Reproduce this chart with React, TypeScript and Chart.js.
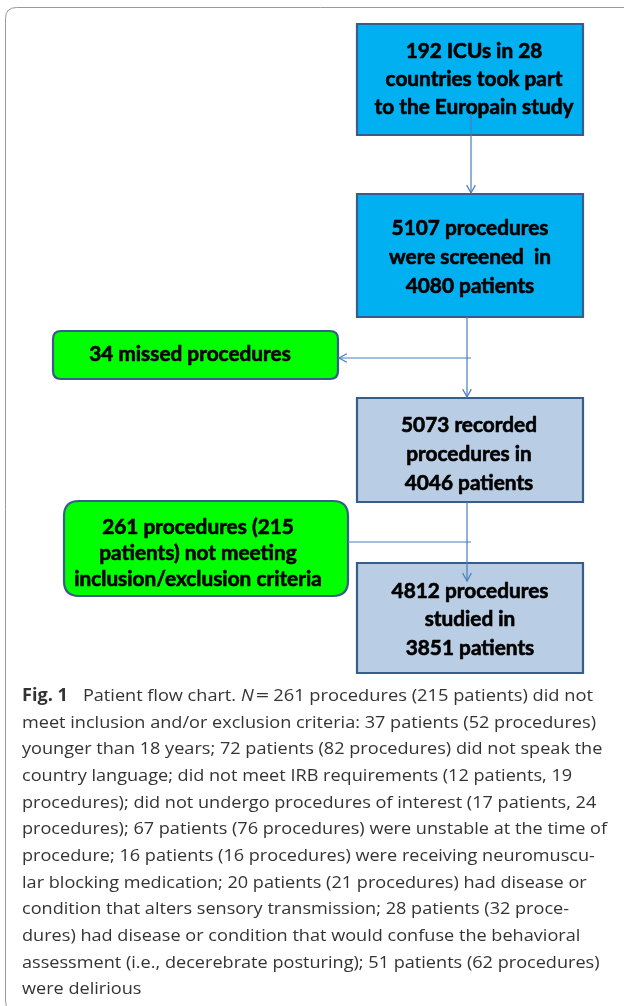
import React, { useEffect, useRef } from "react";
import { Chart, registerables } from "chart.js";

Chart.register(...registerables);

// ---- content ----
const boxTexts: string[][] = [
  ["192 ICUs in 28", "countries took part", "to the Europain study"],
  ["5107 procedures", "were screened  in", "4080 patients"],
  ["5073 recorded", "procedures in", "4046 patients"],
  ["4812 procedures", "studied in", "3851 patients"],
  ["34 missed procedures"],
  ["261 procedures (215", "patients) not meeting", "inclusion/exclusion criteria"],
];
const boxKinds = ["stage", "stage", "kept", "kept", "excluded", "excluded"];

// ---- layout (page units used as the scale's data units) ----
const boxLeft = [357, 357, 357, 357, 53, 64];
const boxTop = [24, 194, 398, 563, 331, 501];
const boxRight = [583, 583, 583, 583, 338, 348];
const boxBottom = [135, 317, 502, 673, 379, 596];
const textCx = [474, 470, 469, 470, 190, 198];
const textCy = [79, 257, 454, 619, 354, 553];
const textGap = [28, 29, 29, 28.5, 28, 26];

// reference line widths used to calibrate the box font
const fitLines = ["5107 procedures", "34 missed procedures", "to the Europain study", "inclusion/exclusion criteria"];
const fitWidths = [166, 190, 214, 235];

const connFromX = [471, 467, 471, 467, 348];
const connFromY = [113, 317, 358, 502, 542];
const connToX = [471, 467, 339, 467, 471];
const connToY = [193, 397, 358, 581, 542];
const connHead = [true, true, true, true, false];

const captionLines: string[] = [
  "",
  "meet inclusion and/or exclusion criteria: 37 patients (52 procedures)",
  "younger than 18 years; 72 patients (82 procedures) did not speak the",
  "country language; did not meet IRB requirements (12 patients, 19",
  "procedures); did not undergo procedures of interest (17 patients, 24",
  "procedures); 67 patients (76 procedures) were unstable at the time of",
  "procedure; 16 patients (16 procedures) were receiving neuromuscu-",
  "lar blocking medication; 20 patients (21 procedures) had disease or",
  "condition that alters sensory transmission; 28 patients (32 proce-",
  "dures) had disease or condition that would confuse the behavioral",
  "assessment (i.e., decerebrate posturing); 51 patients (62 procedures)",
  "were delirious",
];
// first caption line pieces
const captionPieces = ["Fig. 1", "Patient flow chart.", "N", "=", "261 procedures (215 patients) did not"];
const captionPieceStyle = ["bold", "normal", "italic", "normal", "normal"];
const captionPieceGap = [15, 5, 2, 4, 0];
const captionFirstEnd = 593;

const fillByKind: Record<string, string> = {
  stage: "#00B0F0",
  kept: "#B9CDE5",
  excluded: "#00FF00",
};
const BOX_BORDER = "#385D8A";
const LINE_COLOR = "#4A7EBB";
const CAPTION_COLOR = "#333333";
const BOX_FONT = "bold 20px Lato";
const CAP_SIZE = 17;
const CAP_FAMILY = '"Open Sans"';

function capFont(style: string) {
  if (style === "bold") return `bold ${CAP_SIZE}px ${CAP_FAMILY}`;
  if (style === "italic") return `italic ${CAP_SIZE}px ${CAP_FAMILY}`;
  return `${CAP_SIZE}px ${CAP_FAMILY}`;
}

function roundRect(ctx: CanvasRenderingContext2D, x: number, y: number, w: number, h: number, r: number) {
  ctx.beginPath();
  ctx.moveTo(x + r, y);
  ctx.lineTo(x + w - r, y);
  ctx.quadraticCurveTo(x + w, y, x + w, y + r);
  ctx.lineTo(x + w, y + h - r);
  ctx.quadraticCurveTo(x + w, y + h, x + w - r, y + h);
  ctx.lineTo(x + r, y + h);
  ctx.quadraticCurveTo(x, y + h, x, y + h - r);
  ctx.lineTo(x, y + r);
  ctx.quadraticCurveTo(x, y, x + r, y);
  ctx.closePath();
}

function drawScaled(
  ctx: CanvasRenderingContext2D,
  text: string,
  x: number,
  y: number,
  sx: number,
  align: "left" | "center",
  thicken = 0
) {
  const w = ctx.measureText(text).width * sx;
  ctx.save();
  ctx.translate(align === "center" ? x - w / 2 : x, y);
  ctx.scale(sx, 1);
  ctx.textAlign = "left";
  ctx.fillText(text, 0, 0);
  if (thicken > 0) {
    ctx.lineWidth = thicken;
    ctx.strokeStyle = ctx.fillStyle as string;
    ctx.lineJoin = "round";
    ctx.strokeText(text, 0, 0);
  }
  ctx.restore();
  return w;
}

const flowPlugin = {
  id: "flowchart",
  beforeDatasetsDraw(chart: any) {
    const ctx: CanvasRenderingContext2D = chart.ctx;
    const xs = chart.scales.x;
    const ys = chart.scales.y;
    const px = (v: number) => xs.getPixelForValue(v);
    const py = (v: number) => ys.getPixelForValue(v);

    ctx.save();
    ctx.fillStyle = "#ffffff";
    ctx.fillRect(0, 0, chart.width, chart.height);
    // outer frame
    ctx.strokeStyle = "#9a9a9a";
    ctx.lineWidth = 1;
    roundRect(ctx, px(5.5), py(7.5), px(650) - px(5.5), py(1012) - py(7.5), 11);
    ctx.stroke();

    // boxes
    for (let i = 0; i < boxTexts.length; i++) {
      const x0 = px(boxLeft[i]);
      const x1 = px(boxRight[i]);
      const y0 = py(boxTop[i]);
      const y1 = py(boxBottom[i]);
      const kind = boxKinds[i];
      ctx.fillStyle = fillByKind[kind];
      ctx.strokeStyle = BOX_BORDER;
      ctx.lineWidth = 2.2;
      if (kind === "excluded") {
        const r = y1 - y0 > 70 ? 15 : 8;
        roundRect(ctx, x0, y0, x1 - x0, y1 - y0, r);
      } else {
        ctx.beginPath();
        ctx.rect(x0, y0, x1 - x0, y1 - y0);
      }
      ctx.fill();
      ctx.stroke();
    }

    // box texts
    ctx.font = BOX_FONT;
    ctx.fillStyle = "#000000";
    ctx.textBaseline = "middle";
    let sumM = 0;
    let sumT = 0;
    fitLines.forEach((t, k) => {
      sumM += ctx.measureText(t).width;
      sumT += fitWidths[k];
    });
    const sx = sumT / sumM;
    for (let i = 0; i < boxTexts.length; i++) {
      const lines = boxTexts[i];
      const n = lines.length;
      for (let j = 0; j < n; j++) {
        const cy = textCy[i] + (j - (n - 1) / 2) * textGap[i];
        drawScaled(ctx, lines[j], px(textCx[i]), py(cy) + 1, sx, "center", 0.6);
      }
    }
    ctx.restore();
  },
  afterDatasetsDraw(chart: any) {
    const ctx: CanvasRenderingContext2D = chart.ctx;
    const xs = chart.scales.x;
    const ys = chart.scales.y;
    const px = (v: number) => xs.getPixelForValue(v);
    const py = (v: number) => ys.getPixelForValue(v);
    ctx.save();
    // arrow heads (open V)
    ctx.strokeStyle = LINE_COLOR;
    ctx.lineWidth = 1.2;
    for (let i = 0; i < connHead.length; i++) {
      if (!connHead[i]) continue;
      const tx = px(connToX[i]);
      const ty = py(connToY[i]);
      const fx = px(connFromX[i]);
      const fy = py(connFromY[i]);
      const ang = Math.atan2(ty - fy, tx - fx);
      const L = 9;
      const a = 0.5;
      ctx.beginPath();
      ctx.moveTo(tx - L * Math.cos(ang - a), ty - L * Math.sin(ang - a));
      ctx.lineTo(tx, ty);
      ctx.lineTo(tx - L * Math.cos(ang + a), ty - L * Math.sin(ang + a));
      ctx.stroke();
    }

    // caption
    ctx.fillStyle = CAPTION_COLOR;
    ctx.textBaseline = "alphabetic";
    ctx.font = capFont("normal");
    const csx = 574 / ctx.measureText(captionLines[1]).width;
    const base0 = 701;
    const step = 26.65;
    const y0 = py(base0);
    let x = px(22);
    for (let k = 0; k < captionPieces.length; k++) {
      ctx.font = capFont(captionPieceStyle[k]);
      let s = csx;
      if (captionPieces[k] === "=") s = csx * 1.3;
      if (k === captionPieces.length - 1) {
        s = (px(captionFirstEnd) - x) / ctx.measureText(captionPieces[k]).width;
      }
      x += drawScaled(ctx, captionPieces[k], x, y0, s, "left") + captionPieceGap[k];
    }
    ctx.font = capFont("normal");
    for (let i = 1; i < captionLines.length; i++) {
      drawScaled(ctx, captionLines[i], px(22), py(base0 + i * step), csx, "left");
    }
    ctx.restore();
  },
};

export default function App() {
  const ref = useRef<HTMLCanvasElement | null>(null);
  useEffect(() => {
    if (!ref.current) return;
    const datasets = connFromX.map((_, i) => ({
      label: "connector " + (i + 1),
      data: [
        { x: connFromX[i], y: connFromY[i] },
        { x: connToX[i], y: connToY[i] },
      ],
      showLine: true,
      borderColor: LINE_COLOR,
      borderWidth: 1.2,
      pointRadius: 0,
      fill: false,
    }));
    const chart = new Chart(ref.current, {
      type: "scatter",
      data: { datasets },
      options: {
        animation: false,
        responsive: false,
        devicePixelRatio: 1,
        layout: { padding: 0, autoPadding: false },
        events: [],
        plugins: { legend: { display: false }, tooltip: { enabled: false } },
        scales: {
          x: { type: "linear", min: 0, max: 624, display: false },
          y: { type: "linear", min: 0, max: 1006, reverse: true, display: false },
        },
      } as any,
      plugins: [flowPlugin as any],
    });
    let alive = true;
    const fonts = (document as any).fonts;
    if (fonts) {
      Promise.all([
        fonts.load(BOX_FONT),
        fonts.load(capFont("normal")),
        fonts.load(capFont("bold")),
        fonts.load(capFont("italic")),
      ])
        .then(() => {
          if (alive) chart.update();
        })
        .catch(() => {});
    }
    return () => {
      alive = false;
      chart.destroy();
    };
  }, []);
  return (
    <div style={{ position: "absolute", left: 0, top: 0, width: 624, height: 1006, background: "#fff" }}>
      <canvas ref={ref} width={624} height={1006} style={{ display: "block", width: 624, height: 1006 }} />
    </div>
  );
}
